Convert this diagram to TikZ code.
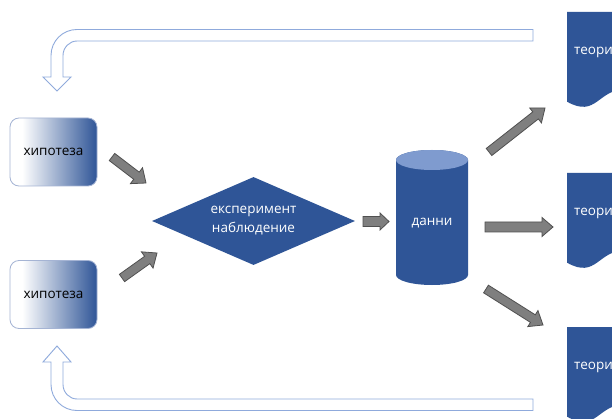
\documentclass[tikz,border=0pt]{standalone}
\usepackage{fontspec}
\setmainfont{Open Sans}
\usetikzlibrary{calc,shapes.geometric}
\definecolor{dblue}{HTML}{2F5597}
\definecolor{lblue}{HTML}{7F9BCF}
\definecolor{bord}{HTML}{8FAADC}
\definecolor{hbord}{HTML}{A5B4D4}
\definecolor{gfill}{HTML}{7F7F7F}
\definecolor{gline}{HTML}{505050}
\pgfdeclarehorizontalshading{hypshade}{100bp}{color(0bp)=(white); color(25bp)=(white); color(32bp)=(white); color(75bp)=(dblue); color(100bp)=(dblue)}
\newcommand\garrow[5]{%
  \path ($(#2)!#5!(#1)$) coordinate (hh);
  \draw[garrowsty] ($(#1)!#3!90:(#2)$) -- ($(hh)!#3!90:(#2)$) -- ($(hh)!#4!90:(#2)$) -- (#2)
    -- ($(hh)!#4!-90:(#2)$) -- ($(hh)!#3!-90:(#2)$) -- ($(#1)!#3!-90:(#2)$) -- cycle;}
\begin{document}
\begin{tikzpicture}[x=1pt,y=-1pt,font=\fontsize{13.5}{19}\selectfont,
  hyp/.style={draw=hbord, line width=0.8pt, rounded corners=9pt, shading=hypshade,
    minimum width=87pt, minimum height=68pt, inner sep=0pt, text=black},
  garrowsty/.style={fill=gfill, draw=gline, line width=0.8pt, line join=miter},
  bentsty/.style={fill=white, draw=bord, line width=0.9pt},
  docsty/.style={fill=dblue, draw=none},
  wtext/.style={text=white, inner sep=0pt}]
\clip (0,0) rectangle (612,419);
\fill[white] (0,0) rectangle (612,419);

% feedback arrows
\draw[bentsty] (533,29.5) -- (77,29.5) .. controls (62.6,29.5) and (51,41.1) .. (51,55.5)
  -- (51,77) -- (43,77) -- (57,91) -- (71,77) -- (63,77) -- (63,55.5)
  .. controls (63,47.5) and (69.5,41) .. (77,41) -- (533,41) -- cycle;
\draw[bentsty] (533,410.5) -- (77,410.5) .. controls (62.6,410.5) and (51,398.9) .. (51,384.5)
  -- (51,362) -- (43,362) -- (57,346) -- (71,362) -- (63,362) -- (63,384.5)
  .. controls (63,392.5) and (69.5,399) .. (77,399) -- (533,399) -- cycle;

% hypotheses
\node[hyp] (hyp1) at (53.5,152) {хипотеза};
\node[hyp] (hyp2) at (53.5,294.5) {хипотеза};

% experiment
\node[diamond, aspect=2.3, fill=dblue, minimum width=203pt, minimum height=88pt, inner sep=0pt,
  text=white, align=center] (exp) at (253.5,221) {експеримент\\наблюдение};

% data cylinder
\fill[dblue] (396,160) -- (396,275) .. controls (396,280.5) and (412,285) .. (432,285)
  .. controls (452,285) and (468,280.5) .. (468,275) -- (468,160)
  .. controls (468,154.5) and (452,150) .. (432,150)
  .. controls (412,150) and (396,154.5) .. (396,160) -- cycle;
\fill[lblue] (396,160) .. controls (396,165.5) and (412,170) .. (432,170)
  .. controls (452,170) and (468,165.5) .. (468,160)
  .. controls (468,154.5) and (452,150) .. (432,150)
  .. controls (412,150) and (396,154.5) .. (396,160) -- cycle;
\node[wtext] (data) at (432,223) {данни};

% theory documents
\foreach \t/\n in {12/th1, 173/th2, 327/th3}{
  \fill[dblue] (567,\t) -- (627,\t) -- (627,\t+77) .. controls (597,\t+77) and (597,\t+106.4)
    .. (567,\t+89.7) -- cycle;
  \node[wtext, anchor=west] (\n) at (574,\t+40) {теория};
}

% gray block arrows
\coordinate (a1s) at (112,157);   \coordinate (a1e) at (146,183);
\coordinate (a2s) at (122,278);   \coordinate (a2e) at (157,253);
\coordinate (a3s) at (363,221.5); \coordinate (a3e) at (389,221.5);
\coordinate (a4s) at (489,152);   \coordinate (a4e) at (545,108);
\coordinate (a5s) at (485,227);   \coordinate (a5e) at (553,227);
\coordinate (a6s) at (486,289);   \coordinate (a6e) at (543,325);
\garrow{a1s}{a1e}{4.5pt}{10pt}{12pt}
\garrow{a2s}{a2e}{4.5pt}{10pt}{12pt}
\garrow{a3s}{a3e}{5pt}{8.5pt}{9pt}
\garrow{a4s}{a4e}{4.5pt}{9.5pt}{12pt}
\garrow{a5s}{a5e}{5pt}{9.5pt}{11pt}
\garrow{a6s}{a6e}{4.5pt}{9.5pt}{12pt}
\end{tikzpicture}
\end{document}
